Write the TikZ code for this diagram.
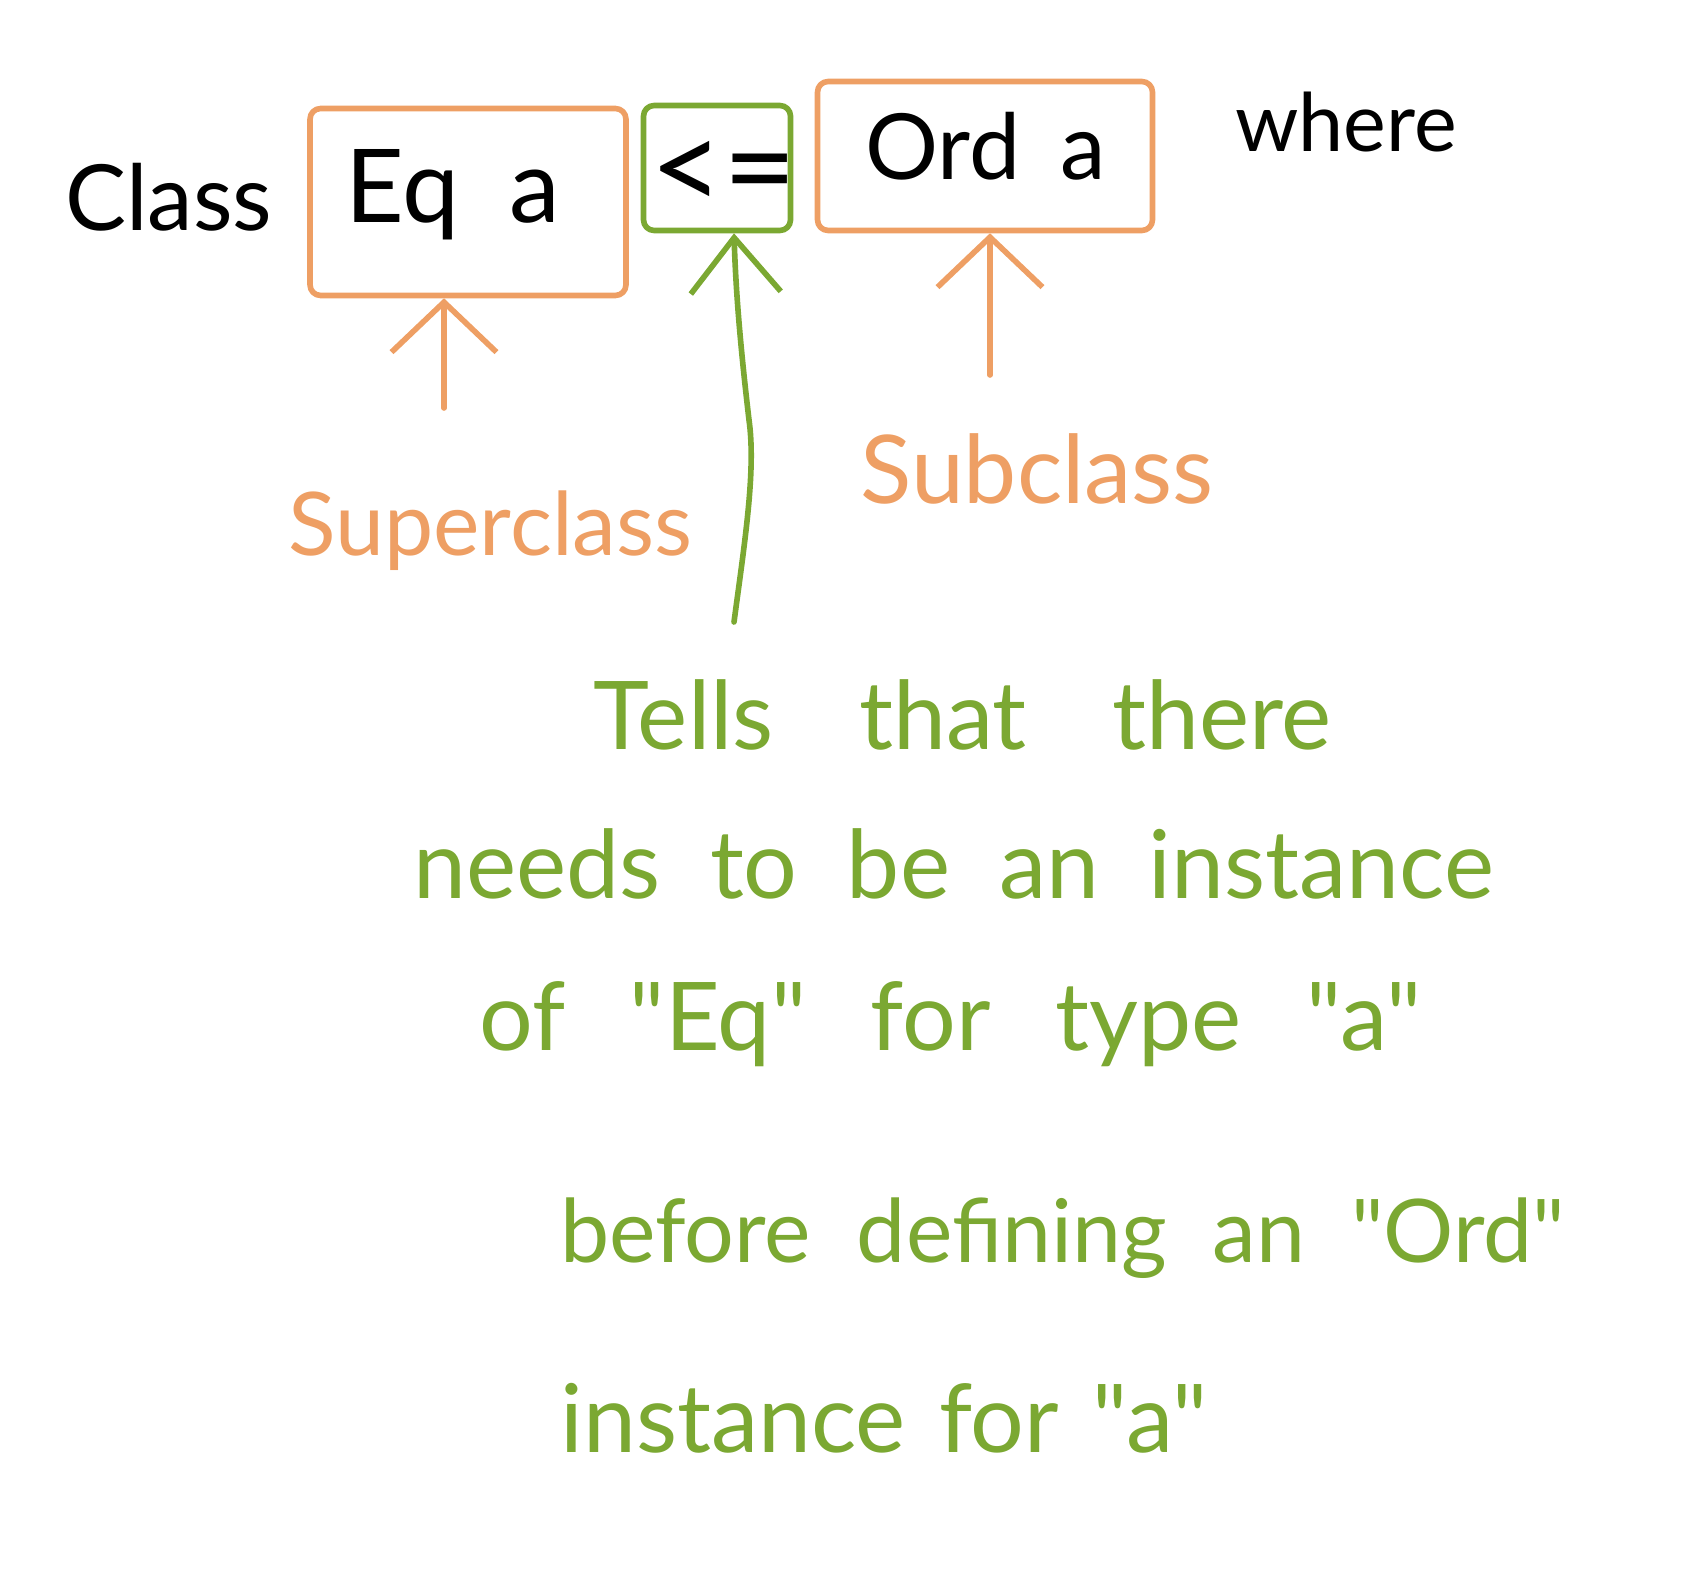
\documentclass[tikz,border=0pt]{standalone}
\usepackage{fontspec}
\setmainfont{Lato}[Ligatures=TeXOff]
\usetikzlibrary{arrows.meta}
\definecolor{hOrange}{HTML}{EE9F64}
\definecolor{hGreen}{HTML}{7BA832}
\newcommand\wsp[1]{\spaceskip=#1em plus 0.05em\relax}
\begin{document}
\begin{tikzpicture}[x=0.02cm,y=-0.02cm,
  hand/.style={line width=3.2pt,line cap=round,line join=round},
  obox/.style={hand,draw=hOrange,rounded corners=6pt,inner sep=0pt},
  gbox/.style={hand,draw=hGreen,rounded corners=6pt,inner sep=0pt},
  bigblack/.style={anchor=base west,inner sep=0pt,text=black,font=\fontsize{58}{64}\selectfont},
  olabel/.style={anchor=base west,inner sep=0pt,text=hOrange,font=\fontsize{50}{56}\selectfont},
  gline/.style={anchor=base west,inner sep=0pt,text=hGreen,font=\fontsize{54}{60}\selectfont},
  oarrow/.style={hand,draw=hOrange,-{Straight Barb[length=1cm,width=2.1cm,line width=3.2pt]}},
  garrow/.style={hand,draw=hGreen,-{Straight Barb[length=1.1cm,width=1.8cm,line width=3.2pt]}}
]
\useasboundingbox (0,0) rectangle (1706,1584);

% boxes
\node[obox,minimum width=6.32cm,minimum height=3.74cm] (eqbox) at (468,202) {};
\node[gbox,minimum width=2.94cm,minimum height=2.5cm] (ltbox) at (717,168) {};
\node[obox,minimum width=6.7cm,minimum height=2.98cm] (ordbox) at (985,156) {};

% black text
\node[bigblack,font=\fontsize{52}{60}\selectfont] (class) at (65,231) {Class};
\node[bigblack] (eq) at (345,223) {Eq\hspace{1.0cm}a};
\node[bigblack,font=\fontsize{72}{80}\selectfont] (lt) at (650,212) {<=};
\node[bigblack,font=\fontsize{52}{60}\selectfont] (ord) at (865,180) {Ord\hspace{0.8cm}a};
\node[bigblack,font=\fontsize{46}{52}\selectfont] (where) at (1235,152) {where};

% orange labels
\node[olabel] (super) at (288,555) {Superclass};
\node[olabel,font=\fontsize{54}{60}\selectfont] (sub) at (860,503) {Subclass};

% green explanation
\node[gline] (l1) at (593,749) {\wsp{0.9}Tells that there};
\node[gline] (l2) at (413,898) {\wsp{0.52}needs to be an instance};
\node[gline] (l3) at (479,1050) {\wsp{0.68}of "Eq" for type "a"};
\node[gline,font=\fontsize{50}{56}\selectfont] (l4) at (560,1262) {\wsp{0.52}before defining an "Ord"};
\node[gline] (l5) at (560,1452) {\wsp{0.35}instance for "a"};

% arrows
\coordinate (supTail) at (444,408);
\coordinate (subTail) at (990,375);
\coordinate (gTail) at (734,622);
\draw[oarrow] (supTail) -- (supTail |- eqbox.south);
\draw[oarrow] (subTail) -- (subTail |- ordbox.south);
\draw[garrow] (gTail) .. controls (745,540) and (756,470) .. (749,420)
  .. controls (742,360) and (736,300) .. (gTail |- ltbox.south);
\end{tikzpicture}
\end{document}
